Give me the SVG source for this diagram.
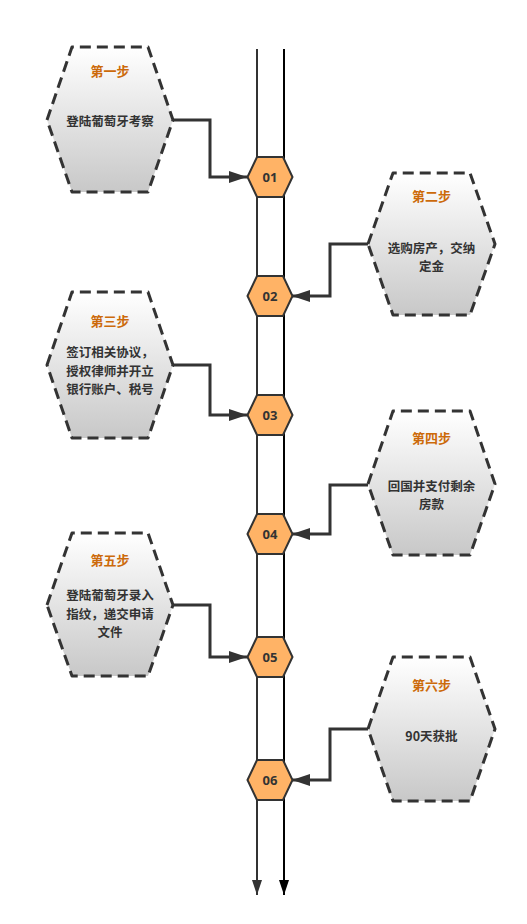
<svg xmlns="http://www.w3.org/2000/svg" width="527" height="924" viewBox="0 0 527 924">
<style>
.step{fill:url(#g);stroke:#333;stroke-width:3;stroke-dasharray:11 6;stroke-linejoin:round}
.num{fill:#ffb366;stroke:#333;stroke-width:2}
.ttl{font-family:"Noto Sans CJK SC",sans-serif;font-weight:bold;font-size:13px;fill:#cc6a0a;text-anchor:middle;dominant-baseline:central}
.txt{font-family:"Noto Sans CJK SC",sans-serif;font-weight:bold;font-size:12.5px;fill:#333;text-anchor:middle;dominant-baseline:central}
.nt{font-family:"Open Sans","Noto Sans",sans-serif;font-weight:bold;font-size:13px;fill:#333;text-anchor:middle;dominant-baseline:central}
.con{fill:none;stroke:#333;stroke-width:3;marker-end:url(#arr)}
</style>
<defs>
<linearGradient id="g" x1="0" y1="0" x2="0" y2="1">
<stop offset="0" stop-color="#ffffff"/>
<stop offset="1" stop-color="#c8c8c8"/>
</linearGradient>
<marker id="arr" viewBox="0 0 18 12" refX="18" refY="6" markerWidth="18" markerHeight="12" markerUnits="userSpaceOnUse" orient="auto">
<path d="M0,0 L18,6 L0,12 z" fill="#333"/>
</marker>
<marker id="arrG" viewBox="0 0 10 15" refX="5" refY="15" markerWidth="10" markerHeight="15" markerUnits="userSpaceOnUse" orient="0">
<path d="M0,0 L10,0 L5,15 z" fill="#333"/>
</marker>
<marker id="arrK" viewBox="0 0 10 15" refX="5" refY="15" markerWidth="10" markerHeight="15" markerUnits="userSpaceOnUse" orient="0">
<path d="M0,0 L10,0 L5,15 z" fill="#000"/>
</marker>
</defs>
<rect width="527" height="924" fill="#fff"/>
<g id="connectors">
<line x1="257" y1="49" x2="257" y2="895" stroke="#333" stroke-width="2" marker-end="url(#arrG)"/>
<line x1="284" y1="49" x2="284" y2="895" stroke="#000" stroke-width="2" marker-end="url(#arrK)"/>
<path class="con" d="M173,120 H210 V177 H247"/>
<path class="con" d="M368,244 H330 V296 H292"/>
<path class="con" d="M173,365 H210 V415 H247"/>
<path class="con" d="M368,485 H330 V534 H292"/>
<path class="con" d="M173,605 H210 V657 H247"/>
<path class="con" d="M368,729 H330 V780 H292"/>
</g>
<g id="n01"><polygon class="num" points="247.5,177 257,157 283,157 292.5,177 283,197 257,197"/><text class="nt" x="270" y="177">01</text></g>
<g id="n02"><polygon class="num" points="247.5,296 257,276 283,276 292.5,296 283,316 257,316"/><text class="nt" x="270" y="296">02</text></g>
<g id="n03"><polygon class="num" points="247.5,415 257,395 283,395 292.5,415 283,435 257,435"/><text class="nt" x="270" y="415">03</text></g>
<g id="n04"><polygon class="num" points="247.5,534 257,514 283,514 292.5,534 283,554 257,554"/><text class="nt" x="270" y="534">04</text></g>
<g id="n05"><polygon class="num" points="247.5,657 257,637 283,637 292.5,657 283,677 257,677"/><text class="nt" x="270" y="657">05</text></g>
<g id="n06"><polygon class="num" points="247.5,780 257,760 283,760 292.5,780 283,800 257,800"/><text class="nt" x="270" y="780">06</text></g>
<g id="step1"><polygon class="step" points="47,120 72,47 148,47 173,120 148,192 72,192"/><text class="ttl" x="110" y="70">第一步</text><text class="txt" x="110" y="120">登陆葡萄牙考察</text></g>
<g id="step2"><polygon class="step" points="368,244 393,173 470,173 495,244 470,315 393,315"/><text class="ttl" x="431.5" y="195">第二步</text><text class="txt" x="431.5" y="247">选购房产，交纳</text><text class="txt" x="431.5" y="265.5">定金</text></g>
<g id="step3"><polygon class="step" points="47,365 72,292 148,292 173,365 148,438 72,438"/><text class="ttl" x="110" y="320">第三步</text><text class="txt" x="110" y="351.5">签订相关协议，</text><text class="txt" x="110" y="370">授权律师并开立</text><text class="txt" x="110" y="388.5">银行账户、税号</text></g>
<g id="step4"><polygon class="step" points="368,484 393,411 470,411 495,484 470,555 393,555"/><text class="ttl" x="431.5" y="437">第四步</text><text class="txt" x="431.5" y="485">回国并支付剩余</text><text class="txt" x="431.5" y="503.5">房款</text></g>
<g id="step5"><polygon class="step" points="47,605 72,533 148,533 173,605 148,676 72,676"/><text class="ttl" x="110" y="559">第五步</text><text class="txt" x="110" y="594.5">登陆葡萄牙录入</text><text class="txt" x="110" y="613">指纹，递交申请</text><text class="txt" x="110" y="631.5">文件</text></g>
<g id="step6"><polygon class="step" points="368,729 393,657 470,657 495,729 470,801 393,801"/><text class="ttl" x="431.5" y="684">第六步</text><text class="txt" x="431.5" y="735">90天获批</text></g>
</svg>
